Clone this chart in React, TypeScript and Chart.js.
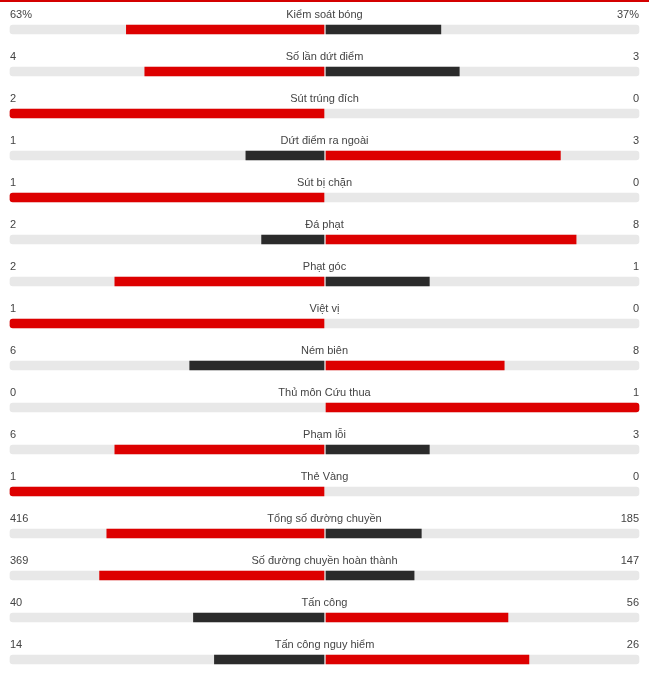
import React, { useEffect, useRef } from "react";
import { Chart, registerables } from "chart.js";

Chart.register(...registerables);

const categories = [
  "Kiểm soát bóng",
  "Số lần dứt điểm",
  "Sút trúng đích",
  "Dứt điểm ra ngoài",
  "Sút bị chặn",
  "Đá phạt",
  "Phạt góc",
  "Việt vị",
  "Ném biên",
  "Thủ môn Cứu thua",
  "Phạm lỗi",
  "Thẻ Vàng",
  "Tổng số đường chuyền",
  "Số đường chuyền hoàn thành",
  "Tấn công",
  "Tấn công nguy hiểm",
];
const homeValues = [63, 4, 2, 1, 1, 2, 2, 1, 6, 0, 6, 1, 416, 369, 40, 14];
const awayValues = [37, 3, 0, 3, 0, 8, 1, 0, 8, 1, 3, 0, 185, 147, 56, 26];
const valueSuffix = ["%", "", "", "", "", "", "", "", "", "", "", "", "", "", "", ""];

const RED = "#dd0000";
const DARK = "#2b2b2b";
const TRACK = "#e8e8e8";
const TEXT = "#444444";

export default function App() {
  const ref = useRef<HTMLCanvasElement | null>(null);

  useEffect(() => {
    document.body.style.margin = "0";
    const canvas = ref.current;
    if (!canvas) return;

    const fracL = homeValues.map((h, i) => {
      const t = h + awayValues[i];
      return t > 0 ? h / t : 0;
    });
    const fracR = awayValues.map((a, i) => {
      const t = homeValues[i] + a;
      return t > 0 ? a / t : 0;
    });
    const gapL = 0.5 / 314.5;
    const gapR = 1.5 / 314.5;

    const leftColors = homeValues.map((h, i) => (h >= awayValues[i] ? RED : DARK));
    const rightColors = awayValues.map((a, i) => (a > homeValues[i] ? RED : DARK));

    const textPlugin = {
      id: "statText",
      afterDraw(chart: any) {
        const ctx = chart.ctx;
        const xs = chart.scales.x;
        const ys = chart.scales.y;
        ctx.save();
        ctx.fillStyle = "#d40000";
        ctx.fillRect(0, 0, chart.width, 2);
        ctx.font = '11px "Liberation Sans", Arial, sans-serif';
        ctx.fillStyle = TEXT;
        ctx.textBaseline = "alphabetic";
        const xl = xs.getPixelForValue(-1);
        const xc = xs.getPixelForValue(0);
        const xr = xs.getPixelForValue(1);
        categories.forEach((c, i) => {
          const y = ys.getPixelForValue(i) - 11.5;
          ctx.textAlign = "left";
          ctx.fillText(String(homeValues[i]) + valueSuffix[i], xl, y);
          ctx.textAlign = "center";
          ctx.fillText(c, xc, y);
          ctx.textAlign = "right";
          ctx.fillText(String(awayValues[i]) + valueSuffix[i], xr, y);
        });
        ctx.restore();
      },
    };

    const chart = new Chart(canvas, {
      type: "bar",
      data: {
        labels: categories,
        datasets: [
          {
            label: "track",
            data: categories.map(() => [-1, 1]) as any,
            backgroundColor: TRACK,
            borderRadius: 3,
            borderSkipped: false,
            grouped: false,
            order: 2,
            barThickness: 9,
            clip: false,
          },
          {
            label: "home",
            data: fracL.map((f) => (f > 0 ? [-f, -gapL] : null)) as any,
            backgroundColor: leftColors,
            borderRadius: fracL.map((f) =>
              f >= 0.999 ? { topLeft: 3, bottomLeft: 3, topRight: 0, bottomRight: 0 } : 0
            ) as any,
            borderSkipped: false,
            grouped: false,
            order: 0,
            barThickness: 9,
            clip: false,
          },
          {
            label: "away",
            data: fracR.map((f) => (f > 0 ? [gapR, f] : null)) as any,
            backgroundColor: rightColors,
            borderRadius: fracR.map((f) =>
              f >= 0.999 ? { topLeft: 0, bottomLeft: 0, topRight: 3, bottomRight: 3 } : 0
            ) as any,
            borderSkipped: false,
            grouped: false,
            order: 0,
            barThickness: 9,
            clip: false,
          },
        ],
      },
      options: {
        indexAxis: "y",
        animation: false,
        responsive: true,
        maintainAspectRatio: false,
        layout: { padding: { left: 10, right: 10, top: 29.5, bottom: 16.5 } },
        plugins: { legend: { display: false }, tooltip: { enabled: false } },
        scales: {
          x: { type: "linear", min: -1, max: 1, display: false },
          y: { type: "category", offset: false, display: false },
        },
      },
      plugins: [textPlugin],
    });
    return () => chart.destroy();
  }, []);

  return (
    <div style={{ width: 649, height: 676, position: "relative", background: "#fff" }}>
      <canvas ref={ref} />
    </div>
  );
}
